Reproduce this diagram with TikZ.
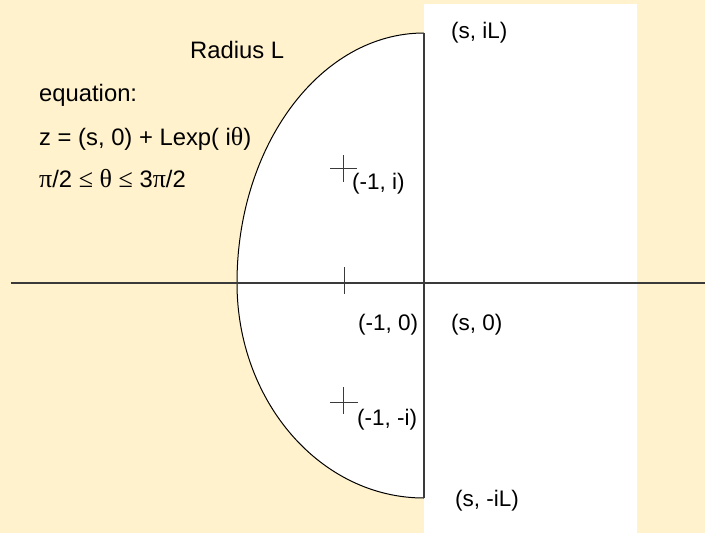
\documentclass[tikz,border=0pt]{standalone}
\usepackage{fontspec}
\setmainfont{Liberation Sans}
\newfontfamily\symf{Liberation Serif}
\newcommand{\sy}[1]{{\symf\fontsize{26}{28}\selectfont #1}}
\definecolor{bgyellow}{HTML}{FFF2CC}
\definecolor{axisgray}{HTML}{3A3A3A}
\begin{document}
\begin{tikzpicture}[x=1pt,y=-1pt,
  lbl/.style={anchor=base west,inner sep=0pt,font=\fontsize{22.5}{26}\selectfont},
  biglbl/.style={anchor=base west,inner sep=0pt,font=\fontsize{23.8}{27}\selectfont},
  axisline/.style={draw=axisgray,line width=1.3pt},
  tickline/.style={draw=axisgray,line width=1pt}]
\fill[bgyellow] (0,0) rectangle (705,533);
\useasboundingbox (0,0) rectangle (705,533);
% white half plane strip
\fill[white] (424,4) rectangle (637,533);
% contour
\coordinate (top) at (424,33);
\coordinate (left) at (237,283);
\coordinate (bot) at (424,498);
\fill[white] (top) arc[start angle=-90,end angle=-180,x radius=187,y radius=250]
  arc[start angle=180,end angle=90,x radius=187,y radius=215] -- cycle;
\draw[black,line width=1pt] (top) arc[start angle=-90,end angle=-180,x radius=187,y radius=250]
  arc[start angle=180,end angle=90,x radius=187,y radius=215];
\draw[axisline] (top) -- (bot);
% real axis
\coordinate (axL) at (10.5,283);
\coordinate (axR) at (705,283);
\draw[axisline] (axL) -- (axR);
% ticks
\coordinate (m1) at (344,283);
\draw[tickline] (344,267) -- (344,294);
\coordinate (pi) at (343.5,168.5);
\draw[tickline] (330,168.5) -- (357,168.5) (343.5,155) -- (343.5,182);
\coordinate (mi) at (343.5,402.5);
\draw[tickline] (330,402.5) -- (357.5,402.5) (343.5,387) -- (343.5,414);
% labels
\node[biglbl] (radius) at (190,58.3) {Radius L};
\node[biglbl] (eqn) at (39,101.7) {equation:};
\node[biglbl] (zeq) at (39,145.7) {z = (s, 0) + Lexp( i\sy{θ})};
\node[biglbl] (range) at (39,187.3) {\sy{π}/2 \sy{≤} \sy{θ} \sy{≤} 3\sy{π}/2};
\node[lbl] (siL) at (451,38) {(s, iL)};
\node[lbl] (m1i) at (352,189) {(-1, i)};
\node[lbl] (m10) at (358,330) {(-1, 0)};
\node[lbl] (s0) at (451,330) {(s, 0)};
\node[lbl] (m1mi) at (357,425.7) {(-1, -i)};
\node[lbl] (smiL) at (455,506) {(s, -iL)};
\end{tikzpicture}
\end{document}
